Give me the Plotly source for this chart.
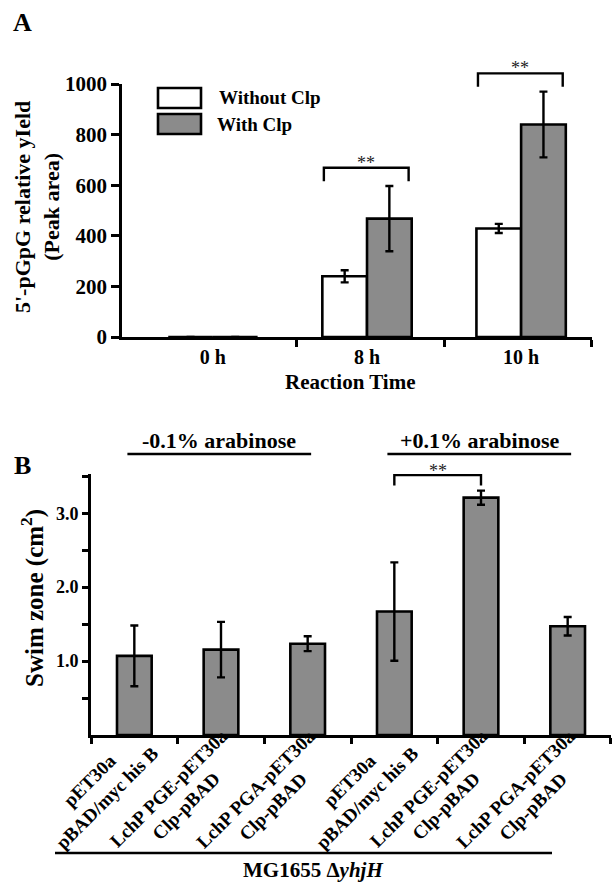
import plotly.graph_objects as go

# ---------------- data ----------------
# Panel A
a_categories = ["0 h", "8 h", "10 h"]
a_without = [0, 240, 429]
a_without_err = [0, 24, 18]
a_with = [0, 468, 840]
a_with_err = [0, 129, 130]
a_yticks = [0, 200, 400, 600, 800, 1000]

# Panel B
b_labels = [
    "pET30a<br>pBAD/myc his B",
    "LchP PGE-pET30a<br>Clp-pBAD",
    "LchP PGA-pET30a<br>Clp-pBAD",
    "pET30a<br>pBAD/myc his B",
    "LchP PGE-pET30a<br>Clp-pBAD",
    "LchP PGA-pET30a<br>Clp-pBAD",
]
b_values = [1.07, 1.155, 1.235, 1.67, 3.21, 1.47]
b_err = [0.41, 0.375, 0.10, 0.665, 0.095, 0.125]
b_yticks = [1.0, 2.0, 3.0]
b_ticktext = ["1.0", "2.0", "3.0"]

W, H = 612, 883
FONT = "Liberation Serif"
GRAY = "#8b8b8b"
LW = 2.6


def PX(px):
    return px / W


def PY(py):
    return 1 - py / H


fig = go.Figure()

# ---------------- Panel A ----------------
ax_x = list(range(len(a_categories)))
bw = 0.29
a_xrange = [-0.59, 2.46]
a_yrange = [0, 1000]

fig.add_trace(go.Bar(
    x=ax_x, y=a_without, width=bw, offset=-bw,
    marker=dict(color="white", line=dict(color="black", width=LW)),
    error_y=dict(type="data", array=a_without_err, color="black", thickness=2.4, width=4),
    xaxis="x", yaxis="y", showlegend=False,
))
fig.add_trace(go.Bar(
    x=ax_x, y=a_with, width=bw, offset=0,
    marker=dict(color=GRAY, line=dict(color="black", width=LW)),
    error_y=dict(type="data", array=a_with_err, color="black", thickness=2.4, width=4),
    xaxis="x", yaxis="y", showlegend=False,
))

# ---------------- Panel B ----------------
bx = list(range(len(b_values)))
b_xrange = [-0.5, 5.5]
b_yrange = [0, 3.53]
fig.add_trace(go.Bar(
    x=bx, y=b_values, width=0.40,
    marker=dict(color=GRAY, line=dict(color="black", width=LW)),
    error_y=dict(type="data", array=b_err, color="black", thickness=2.4, width=4),
    xaxis="x2", yaxis="y2", showlegend=False,
))

axis_common = dict(showgrid=False, zeroline=False, showline=True, linecolor="black",
                   linewidth=LW, ticks="outside", tickcolor="black", tickwidth=LW,
                   automargin=False)

fig.update_layout(
    template="none",
    width=W, height=H, margin=dict(l=0, r=0, t=0, b=0, pad=0),
    paper_bgcolor="white", plot_bgcolor="rgba(0,0,0,0)",
    barmode="overlay",
    font=dict(family=FONT, color="black"),
    xaxis=dict(
        domain=[PX(122), PX(592)], range=a_xrange, anchor="y",
        tickvals=ax_x, ticktext=a_categories, ticks="", ticklen=0,
        tickfont=dict(family=FONT, size=20, weight="bold"),
        showgrid=False, zeroline=False, showline=True, linecolor="black", linewidth=LW,
        automargin=False,
        minor=dict(tickvals=[0.54, 1.5, 2.459], ticks="outside", ticklen=7,
                   tickwidth=LW, tickcolor="black", showgrid=False),
    ),
    yaxis=dict(
        domain=[PY(337), PY(84)], range=a_yrange, anchor="x",
        tickvals=a_yticks, ticklen=8,
        tickfont=dict(family=FONT, size=21, weight="bold"),
        **axis_common,
    ),
    xaxis2=dict(
        domain=[PX(91), PX(611)], range=b_xrange, anchor="y2",
        tickvals=bx, showticklabels=False, ticks="", ticklen=0,
        showgrid=False, zeroline=False, showline=True, linecolor="black", linewidth=LW,
        automargin=False,
        minor=dict(tickvals=[-0.5, 0.5, 1.5, 2.5, 3.5, 4.5, 5.499], ticks="outside",
                   ticklen=6, tickwidth=LW, tickcolor="black", showgrid=False),
    ),
    yaxis2=dict(
        domain=[PY(735), PY(474)], range=b_yrange, anchor="x2",
        tickvals=b_yticks, ticktext=b_ticktext, ticklen=6,
        tickfont=dict(family=FONT, size=18, weight="bold"),
        minor=dict(tickvals=[0.5, 1.5, 2.5, 3.5], ticks="outside", ticklen=6,
                   tickwidth=LW, tickcolor="black", showgrid=False),
        **axis_common,
    ),
)


def xd(v, rng):
    return (v - rng[0]) / (rng[1] - rng[0])


def yd(v, rng):
    return (v - rng[0]) / (rng[1] - rng[0])


shapes = []
annots = []


def bracket(x0, x1, ytop, yleg, xr, yr, xref, yref, star_y):
    shapes.append(dict(type="path", xref=xref + " domain", yref=yref + " domain",
                       path=f"M {xd(x0, xr)} {yd(yleg, yr)} L {xd(x0, xr)} {yd(ytop, yr)} "
                            f"L {xd(x1, xr)} {yd(ytop, yr)} L {xd(x1, xr)} {yd(yleg, yr)}",
                       line=dict(color="black", width=2.4)))
    annots.append(dict(text="**", xref=xref + " domain", yref=yref + " domain",
                       x=xd((x0 + x1) / 2, xr), y=yd(star_y, yr), showarrow=False,
                       xanchor="center", yanchor="middle",
                       font=dict(family=FONT, size=18, color="#222")))


# Panel A significance brackets
for i in (1, 2):
    top_err = a_with[i] + a_with_err[i]
    bracket(i - 0.28, i + 0.27, top_err + 72, top_err + 19, a_xrange, a_yrange, "x", "y",
            top_err + 72 + 20)

# Panel B significance bracket (between bars 3 and 4)
top_b = b_values[4] + b_err[4]
bracket(3, 4, top_b + 0.21, top_b + 0.07, b_xrange, b_yrange, "x2", "y2", top_b + 0.27)

# Rotated category labels for panel B (two centred lines, block rotated -45 deg)
for i, lab in zip(bx, b_labels):
    annots.append(dict(text=lab, xref="x2", yref="paper", x=i, xshift=30, y=PY(724),
                       xanchor="right", yanchor="top", textangle=-45, align="center",
                       showarrow=False, borderpad=0,
                       font=dict(family=FONT, size=19, weight="bold")))

# Legend for panel A
for (y0, y1, fill, label, tx) in [(88, 108, "white", "Without Clp", 217), (114, 134, GRAY, "With Clp", 215)]:
    shapes.append(dict(type="rect", xref="paper", yref="paper",
                       x0=PX(158), x1=PX(201), y0=PY(y1), y1=PY(y0),
                       fillcolor=fill, line=dict(color="black", width=LW)))
    annots.append(dict(text=label, xref="paper", yref="paper", x=PX(tx), y=PY((y0 + y1) / 2),
                       xanchor="left", yanchor="middle", showarrow=False,
                       font=dict(family=FONT, size=19, weight="bold")))

# Group lines for panel B
for (g0, g1, label) in [(0, 2, "-0.1% arabinose"), (3, 5, "+0.1% arabinose")]:
    shapes.append(dict(type="line", xref="x2 domain", yref="paper",
                       x0=xd(g0 - 0.08, b_xrange), x1=xd(g1 + 0.04, b_xrange),
                       y0=PY(454), y1=PY(454), line=dict(color="black", width=LW)))
    annots.append(dict(text=label, xref="x2 domain", yref="paper",
                       x=xd((g0 + g1) / 2 - 0.02, b_xrange), y=PY(441),
                       showarrow=False, xanchor="center", yanchor="middle",
                       font=dict(family=FONT, size=22, weight="bold")))

# Bottom strain line
shapes.append(dict(type="line", xref="paper", yref="paper", x0=PX(55), x1=PX(552),
                   y0=PY(853), y1=PY(853), line=dict(color="black", width=LW)))
annots.append(dict(text="MG1655 Δ<i>yhjH</i>", xref="paper", yref="paper", x=PX(313), y=PY(870),
                   showarrow=False, xanchor="center", yanchor="middle",
                   font=dict(family=FONT, size=21, weight="bold")))

# Axis titles and panel letters
annots.append(dict(text="5'-pGpG relative yIeld<br>(Peak area)", xref="paper", yref="paper",
                   x=PX(37), y=PY(207), textangle=-90, showarrow=False,
                   xanchor="center", yanchor="middle",
                   font=dict(family=FONT, size=22, weight="bold")))
annots.append(dict(text="Reaction Time", xref="paper", yref="paper", x=PX(350), y=PY(382),
                   showarrow=False, xanchor="center", yanchor="middle",
                   font=dict(family=FONT, size=21, weight="bold")))
annots.append(dict(text="Swim zone (cm<sup>2</sup>)", xref="paper", yref="paper",
                   x=PX(32), y=PY(598), textangle=-90, showarrow=False,
                   xanchor="center", yanchor="middle",
                   font=dict(family=FONT, size=25, weight="bold")))
annots.append(dict(text="A", xref="paper", yref="paper", x=PX(22), y=PY(22), showarrow=False,
                   xanchor="center", yanchor="middle",
                   font=dict(family=FONT, size=26, weight="bold")))
annots.append(dict(text="B", xref="paper", yref="paper", x=PX(22), y=PY(465), showarrow=False,
                   xanchor="center", yanchor="middle",
                   font=dict(family=FONT, size=26, weight="bold")))

fig.update_layout(shapes=shapes, annotations=annots)
fig.write_html("out.html")
